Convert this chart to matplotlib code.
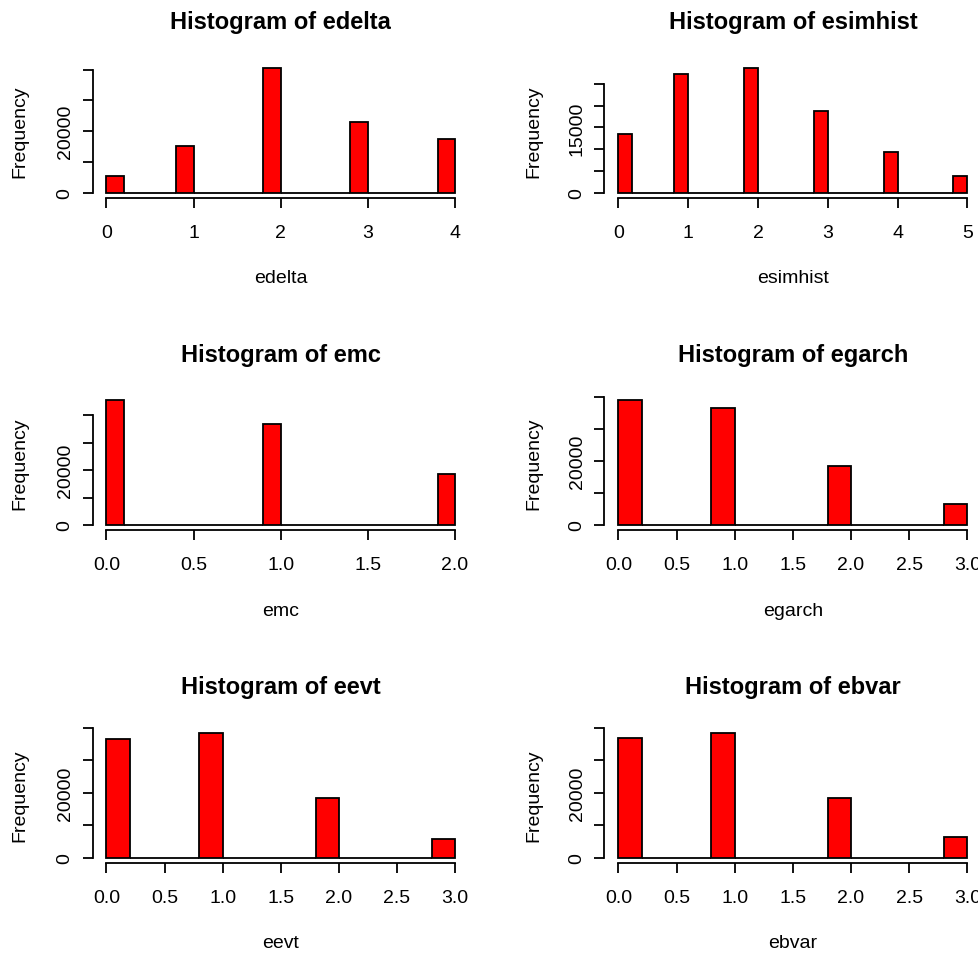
import matplotlib
matplotlib.use("Agg")
import matplotlib.pyplot as plt
import matplotlib.transforms as mtransforms
import numpy as np

plt.rcParams['font.family'] = ['Liberation Sans', 'DejaVu Sans']

# counts per observed value (integer-valued series)
edelta_vals = [0, 1, 2, 3, 4]
edelta_counts = [5400, 15000, 40500, 22800, 17400]

esimhist_vals = [0, 1, 2, 3, 4, 5]
esimhist_counts = [13600, 27200, 28700, 18700, 9400, 3800]

emc_vals = [0, 1, 2]
emc_counts = [45300, 36800, 18700]

egarch_vals = [0, 1, 2, 3]
egarch_counts = [38800, 36500, 18400, 6400]

eevt_vals = [0, 1, 2, 3]
eevt_counts = [36700, 38500, 18300, 5700]

ebvar_vals = [0, 1, 2, 3]
ebvar_counts = [37100, 38500, 18300, 6300]

# tick setup
int_ticks4 = [0, 1, 2, 3, 4]
int_ticks5 = [0, 1, 2, 3, 4, 5]
half_ticks2 = [0.0, 0.5, 1.0, 1.5, 2.0]
half_ticks3 = [0.0, 0.5, 1.0, 1.5, 2.0, 2.5, 3.0]
y_ticks_40k = [0, 10000, 20000, 30000, 40000]
y_labels_40k = ['0', '', '20000', '', '']
y_ticks_25k = [0, 5000, 10000, 15000, 20000, 25000]
y_labels_25k = ['0', '', '', '15000', '', '']

panels = [
    ('edelta', edelta_vals, edelta_counts, 0.2, int_ticks4,
     [str(t) for t in int_ticks4], y_ticks_40k, y_labels_40k),
    ('esimhist', esimhist_vals, esimhist_counts, 0.2, int_ticks5,
     [str(t) for t in int_ticks5], y_ticks_25k, y_labels_25k),
    ('emc', emc_vals, emc_counts, 0.1, half_ticks2,
     ['%.1f' % t for t in half_ticks2], y_ticks_40k, y_labels_40k),
    ('egarch', egarch_vals, egarch_counts, 0.2, half_ticks3,
     ['%.1f' % t for t in half_ticks3], y_ticks_40k, y_labels_40k),
    ('eevt', eevt_vals, eevt_counts, 0.2, half_ticks3,
     ['%.1f' % t for t in half_ticks3], y_ticks_40k, y_labels_40k),
    ('ebvar', ebvar_vals, ebvar_counts, 0.2, half_ticks3,
     ['%.1f' % t for t in half_ticks3], y_ticks_40k, y_labels_40k),
]

W, H = 979, 954
fig = plt.figure(figsize=(W / 100, H / 100), dpi=100)

col_left = [92.5, 604.5]
col_right = [468.9, 981.3]
row_top = [64, 396.5, 729]
row_h = 134.5
ylabel_off = [-73, -70.5]

LW = 1.3


def draw_hist(ax, col, name, vals, counts, binw, xticks, xticklabels, yticks, yticklabels):
    top = max(vals)
    nbins = int(round(top / binw))
    edges = np.round(np.linspace(0, top, nbins + 1), 10)
    # right-closed bins, lowest value included in the first bin
    idx = np.digitize(vals, edges, right=True)
    idx = np.clip(idx, 1, None) - 1
    heights = np.zeros(nbins)
    heights[idx] = counts
    ax.bar(edges[:-1], heights, width=binw, align='edge', color='#ff0000',
           edgecolor='black', linewidth=LW)

    ymax = max(counts)
    ax.set_xlim(-0.04 * top, 1.04 * top)
    ax.set_ylim(-0.04 * ymax, 1.04 * ymax)

    for s in ['top', 'right']:
        ax.spines[s].set_visible(False)
    ax.spines['left'].set_bounds(yticks[0], yticks[-1])
    ax.spines['bottom'].set_bounds(xticks[0], xticks[-1])
    ax.spines['left'].set_linewidth(LW)
    ax.spines['bottom'].set_linewidth(LW)

    ax.set_xticks(xticks)
    ax.set_xticklabels(xticklabels, fontsize=14)
    ax.set_yticks(yticks)
    ax.set_yticklabels(yticklabels, fontsize=14, rotation=90, va='center')
    ax.tick_params(axis='x', length=7.5, width=LW, pad=11.5)
    ax.tick_params(axis='y', length=7.5, width=LW, pad=6)

    ax.set_title('Histogram of ' + name, fontsize=17, fontweight='bold', pad=25)

    ax.set_xlabel(name, fontsize=14, va='center')
    ax.xaxis.set_label_coords(0.5, 0, transform=mtransforms.offset_copy(
        ax.transAxes, fig=fig, x=0, y=-80, units='dots'))
    ax.set_ylabel('Frequency', fontsize=14, va='center')
    ax.yaxis.set_label_coords(0, 0.5, transform=mtransforms.offset_copy(
        ax.transAxes, fig=fig, x=ylabel_off[col], y=0, units='dots'))


for i, p in enumerate(panels):
    r, c = divmod(i, 2)
    left = col_left[c] / W
    width = (col_right[c] - col_left[c]) / W
    bottom = (H - row_top[r] - row_h) / H
    ax = fig.add_axes([left, bottom, width, row_h / H])
    draw_hist(ax, c, *p)

fig.savefig('out.png', dpi=100, facecolor='white')
